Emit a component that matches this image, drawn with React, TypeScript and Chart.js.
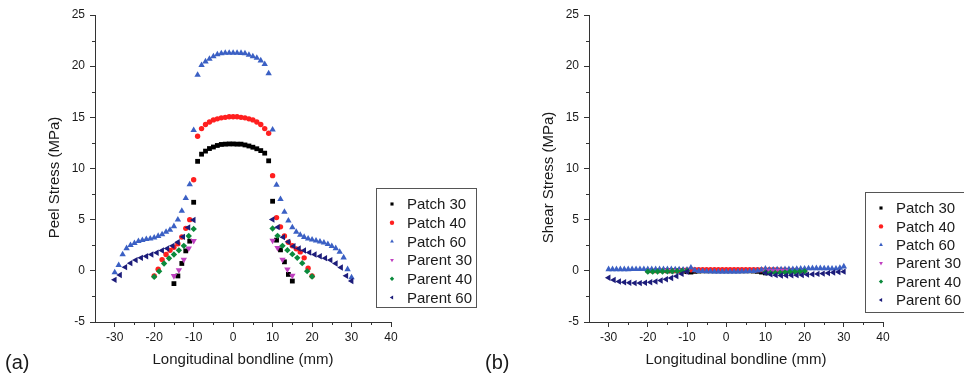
import React, { useEffect, useRef } from 'react';
import { Chart, registerables } from 'chart.js';
import { drawPoint } from 'chart.js/helpers';

Chart.register(...registerables);

const FONT = '"Liberation Sans", Arial, sans-serif';
const AXIS_COLOR = '#333333';
const TEXT_COLOR = '#1a1a1a';

const SERIES_NAMES = ['Patch 30', 'Patch 40', 'Patch 60', 'Parent 30', 'Parent 40', 'Parent 60'];
const COLORS = ['#000000', '#ff1f1f', '#3b60c4', '#c040c0', '#0b8a3c', '#1c1c7a'];
const STYLES = ['rect', 'circle', 'triangle', 'triangle', 'rectRot', 'triangle'];
const ROTATIONS = [0, 0, 0, 180, 0, 270];
const RADII = [3.4, 2.7, 3.7, 3.7, 3.2, 3.7];

const X_TICKS = [-30, -20, -10, 0, 10, 20, 30, 40];
const X_MINOR = [-25, -15, -5, 5, 15, 25, 35];
const Y_MINOR = [-2.5, 2.5, 7.5, 12.5, 17.5, 22.5];

// x positions (mm)
const PATCH30_X = [-15, -14, -13, -12, -11, -10, -9, -8, -7, -6, -5, -4, -3, -2, -1, 0, 1, 2, 3, 4, 5, 6, 7, 8, 9, 10, 11, 12, 13, 14, 15];
const PATCH40_X = [-20, -19, -18, -17, -16, -15, -14, -13, -12, -11, -10, -9, -8, -7, -6, -5, -4, -3, -2, -1, 0, 1, 2, 3, 4, 5, 6, 7, 8, 9, 10, 11, 12, 13, 14, 15, 16, 17, 18, 19, 20];
const PATCH60_X = [-30, -29, -28, -27, -26, -25, -24, -23, -22, -21, -20, -19, -18, -17, -16, -15, -14, -13, -12, -11, -10, -9, -8, -7, -6, -5, -4, -3, -2, -1, 0, 1, 2, 3, 4, 5, 6, 7, 8, 9, 10, 11, 12, 13, 14, 15, 16, 17, 18, 19, 20, 21, 22, 23, 24, 25, 26, 27, 28, 29, 30];
const PARENT30_X = [-15, -13.75, -12.5, -11.25, -10, 10, 11.25, 12.5, 13.75, 15];
const PARENT40_X = [-20, -18.75, -17.5, -16.25, -15, -13.75, -12.5, -11.25, -10, 10, 11.25, 12.5, 13.75, 15, 16.25, 17.5, 18.75, 20];
const PARENT60_X = [-30, -28.67, -27.33, -26, -24.67, -23.33, -22, -20.67, -19.33, -18, -16.67, -15.33, -14, -12.67, -11.33, -10, 10, 11.33, 12.67, 14, 15.33, 16.67, 18, 19.33, 20.67, 22, 23.33, 24.67, 26, 27.33, 28.67, 30];

// (a) Peel stress (MPa)
const PEEL_PATCH30 = [-1.25, -0.5, 0.72, 1.95, 2.9, 6.7, 10.7, 11.4, 11.7, 11.95, 12.1, 12.25, 12.35, 12.38, 12.4, 12.4, 12.38, 12.38, 12.3, 12.2, 12.08, 11.93, 11.75, 11.5, 10.75, 6.8, 3.0, 2.05, 0.88, -0.35, -1.0];
const PEEL_PATCH40 = [-0.5, 0.15, 1.1, 1.6, 2.0, 2.3, 2.65, 3.3, 4.15, 5.0, 8.9, 13.15, 13.9, 14.3, 14.55, 14.75, 14.85, 14.95, 15.0, 15.05, 15.05, 15.05, 15.0, 14.95, 14.85, 14.75, 14.55, 14.3, 13.9, 13.45, 9.3, 5.2, 4.3, 3.4, 2.8, 2.45, 2.15, 1.85, 1.27, 0.25, -0.5];
const PEEL_PATCH60 = [-0.15, 0.55, 1.6, 2.2, 2.5, 2.7, 2.9, 3.0, 3.1, 3.15, 3.25, 3.4, 3.55, 3.8, 4.0, 4.35, 5.0, 5.85, 7.1, 8.45, 13.75, 19.15, 20.1, 20.45, 20.7, 20.95, 21.15, 21.25, 21.3, 21.3, 21.3, 21.3, 21.28, 21.25, 21.1, 20.95, 20.8, 20.55, 20.2, 19.3, 13.8, 8.4, 7.0, 5.75, 4.9, 4.25, 3.8, 3.5, 3.3, 3.15, 3.05, 2.95, 2.85, 2.75, 2.6, 2.4, 2.2, 1.85, 1.3, 0.15, -0.65];
const PEEL_PARENT30 = [-0.5, 0.08, 1.1, 2.2, 2.93, 2.95, 2.25, 1.1, 0.15, -0.47];
const PEEL_PARENT40 = [-0.58, -0.05, 0.72, 1.22, 1.6, 2.0, 2.44, 3.4, 4.1, 4.14, 3.42, 2.44, 2.02, 1.63, 1.27, 0.75, -0.03, -0.56];
const PEEL_PARENT60 = [-0.88, -0.4, 0.36, 0.75, 1.05, 1.27, 1.43, 1.6, 1.76, 1.99, 2.18, 2.44, 2.8, 3.32, 4.23, 4.96, 5.02, 4.27, 3.29, 2.83, 2.41, 2.18, 1.99, 1.79, 1.6, 1.43, 1.24, 1.05, 0.72, 0.33, -0.49, -1.0];

// (b) Shear stress (MPa)
const SHEAR_PATCH30 = [0.0, 0.0, 0.0, 0.0, -0.02, -0.08, -0.12, -0.05, -0.02, 0.0, 0.0, 0.0, 0.0, 0.0, 0.0, 0.0, 0.0, 0.0, 0.0, 0.0, 0.0, 0.0, -0.02, -0.05, -0.12, -0.2, -0.08, -0.03, -0.01, 0.0, 0.0];
const SHEAR_PATCH40 = [0.02, 0.02, 0.02, 0.03, 0.03, 0.03, 0.04, 0.04, 0.05, 0.06, 0.08, 0.1, 0.11, 0.12, 0.12, 0.12, 0.12, 0.12, 0.12, 0.12, 0.12, 0.12, 0.12, 0.12, 0.12, 0.12, 0.12, 0.12, 0.11, 0.1, 0.08, 0.1, 0.1, 0.1, 0.09, 0.08, 0.07, 0.06, 0.05, 0.04, 0.03];
const SHEAR_PATCH60 = [0.15, 0.15, 0.15, 0.15, 0.15, 0.15, 0.16, 0.16, 0.16, 0.16, 0.15, 0.15, 0.15, 0.15, 0.15, 0.15, 0.15, 0.14, 0.14, 0.12, 0.1, 0.3, 0.05, -0.02, -0.04, -0.05, -0.06, -0.07, -0.08, -0.08, -0.08, -0.08, -0.08, -0.07, -0.06, -0.05, -0.04, -0.02, 0.02, 0.1, 0.2, 0.12, 0.12, 0.13, 0.14, 0.15, 0.16, 0.17, 0.18, 0.2, 0.22, 0.24, 0.25, 0.25, 0.25, 0.24, 0.23, 0.22, 0.22, 0.28, 0.42];
const SHEAR_PARENT30 = [0.0, 0.0, -0.02, -0.03, -0.05, -0.05, -0.03, -0.02, 0.0, 0.0];
const SHEAR_PARENT40 = [-0.08, -0.08, -0.07, -0.06, -0.05, -0.04, -0.03, -0.02, 0.0, -0.15, -0.2, -0.2, -0.18, -0.15, -0.12, -0.1, -0.08, -0.05];
const SHEAR_PARENT60 = [-0.68, -0.9, -1.05, -1.12, -1.17, -1.2, -1.2, -1.17, -1.12, -1.05, -0.95, -0.83, -0.7, -0.52, -0.3, -0.08, -0.2, -0.35, -0.42, -0.45, -0.45, -0.43, -0.42, -0.4, -0.37, -0.33, -0.3, -0.27, -0.22, -0.17, -0.12, -0.08];

const X_SETS = [PATCH30_X, PATCH40_X, PATCH60_X, PARENT30_X, PARENT40_X, PARENT60_X];
const PEEL_SETS = [PEEL_PATCH30, PEEL_PATCH40, PEEL_PATCH60, PEEL_PARENT30, PEEL_PARENT40, PEEL_PARENT60];
const SHEAR_SETS = [SHEAR_PATCH30, SHEAR_PATCH40, SHEAR_PATCH60, SHEAR_PARENT30, SHEAR_PARENT40, SHEAR_PARENT60];

type PanelProps = {
  left: number;
  width: number;
  areaLeft: number;
  areaRight: number;
  yTitle: string;
  ySets: number[][];
  legendX: number;
  legendY: number;
  legendW: number;
  legendH: number;
  legendStep: number;
};

const HEIGHT = 378;
const AREA_TOP = 15;
const AREA_BOTTOM = 322;

function Panel(p: PanelProps) {
  const ref = useRef<HTMLCanvasElement | null>(null);
  useEffect(() => {
    const canvas = ref.current;
    if (!canvas) return;
    const overlay = {
      id: 'overlay',
      afterDraw(chart: any) {
        const ctx = chart.ctx;
        const { left, top, bottom } = chart.chartArea;
        const xs = chart.scales.x;
        const ys = chart.scales.y;
        ctx.save();
        ctx.strokeStyle = AXIS_COLOR;
        ctx.lineWidth = 1;
        ctx.beginPath();
        for (const v of X_MINOR) {
          const px = Math.round(xs.getPixelForValue(v)) + 0.5;
          ctx.moveTo(px, bottom);
          ctx.lineTo(px, bottom + 3);
        }
        for (const v of Y_MINOR) {
          const py = Math.round(ys.getPixelForValue(v)) + 0.5;
          ctx.moveTo(left - 3, py);
          ctx.lineTo(left, py);
        }
        ctx.stroke();
        ctx.restore();

        // y title
        ctx.save();
        ctx.translate(left - 40, (top + bottom) / 2 + 9);
        ctx.rotate(-Math.PI / 2);
        ctx.font = `15px ${FONT}`;
        ctx.fillStyle = TEXT_COLOR;
        ctx.textAlign = 'center';
        ctx.textBaseline = 'middle';
        ctx.fillText(p.yTitle, 0, 0);
        ctx.restore();

        // legend
        ctx.save();
        ctx.fillStyle = '#ffffff';
        ctx.fillRect(p.legendX, p.legendY, p.legendW, p.legendH);
        ctx.strokeStyle = '#555555';
        ctx.lineWidth = 1;
        ctx.strokeRect(p.legendX + 0.5, p.legendY + 0.5, p.legendW, p.legendH);
        ctx.font = `15px ${FONT}`;
        ctx.textAlign = 'left';
        ctx.textBaseline = 'middle';
        SERIES_NAMES.forEach((name, i) => {
          const y = p.legendY + 16 + i * p.legendStep;
          ctx.fillStyle = COLORS[i];
          drawPoint(ctx, { pointStyle: STYLES[i], rotation: ROTATIONS[i], radius: 2.2, borderWidth: 0 } as any, p.legendX + 16, y);
          ctx.fillStyle = TEXT_COLOR;
          ctx.fillText(name, p.legendX + 31, y + 1);
        });
        ctx.restore();
      },
    };

    const chart = new Chart(canvas, {
      type: 'scatter',
      data: {
        datasets: SERIES_NAMES.map((name, i) => ({
          label: name,
          data: X_SETS[i].map((x, j) => ({ x, y: p.ySets[i][j] })),
          backgroundColor: COLORS[i],
          borderColor: COLORS[i],
          pointStyle: STYLES[i] as any,
          rotation: ROTATIONS[i],
          pointRadius: RADII[i],
          pointBorderWidth: 0,
          showLine: false,
          order: 5 - i,
        })),
      },
      options: {
        animation: false,
        responsive: false,
        maintainAspectRatio: false,
        devicePixelRatio: 1,
        layout: { padding: { left: 0, top: AREA_TOP, right: p.width - p.areaRight, bottom: 0 } },
        plugins: { legend: { display: false }, tooltip: { enabled: false } },
        scales: {
          x: {
            type: 'linear',
            min: -35,
            max: 40,
            afterBuildTicks: (scale: any) => {
              scale.ticks = X_TICKS.map((v) => ({ value: v }));
            },
            afterFit: (scale: any) => {
              scale.height = HEIGHT - AREA_BOTTOM;
            },
            ticks: {
              font: { family: FONT, size: 12 },
              color: TEXT_COLOR,
              padding: 3,
              maxRotation: 0,
              autoSkip: false,
            },
            grid: { drawOnChartArea: false, drawTicks: true, tickLength: 5, color: AXIS_COLOR },
            border: { display: true, color: AXIS_COLOR, width: 1 },
            title: {
              display: true,
              text: 'Longitudinal bondline (mm)',
              font: { family: FONT, size: 15 },
              color: TEXT_COLOR,
              padding: { top: 0, bottom: 9 },
            },
          },
          y: {
            type: 'linear',
            min: -5,
            max: 25,
            afterFit: (scale: any) => {
              scale.width = p.areaLeft;
            },
            ticks: {
              stepSize: 5,
              font: { family: FONT, size: 12 },
              color: TEXT_COLOR,
              padding: 5,
            },
            grid: { drawOnChartArea: false, drawTicks: true, tickLength: 5, color: AXIS_COLOR },
            border: { display: true, color: AXIS_COLOR, width: 1 },
          },
        },
      },
      plugins: [overlay],
    });
    return () => chart.destroy();
  }, []);

  return (
    <canvas
      ref={ref}
      width={p.width}
      height={HEIGHT}
      style={{ position: 'absolute', left: p.left, top: 0, width: p.width, height: HEIGHT }}
    />
  );
}

export default function App() {
  const labelStyle: React.CSSProperties = {
    position: 'absolute',
    top: 350,
    fontFamily: FONT,
    fontSize: 20,
    lineHeight: '24px',
    color: TEXT_COLOR,
  };
  return (
    <div style={{ position: 'absolute', left: 0, top: 0, width: 964, height: HEIGHT, background: '#ffffff', overflow: 'hidden' }}>
      <Panel
        left={0}
        width={480}
        areaLeft={95}
        areaRight={391}
        yTitle="Peel Stress (MPa)"
        ySets={PEEL_SETS}
        legendX={376}
        legendY={188}
        legendW={100}
        legendH={119}
        legendStep={18.7}
      />
      <Panel
        left={480}
        width={484}
        areaLeft={109}
        areaRight={403}
        yTitle="Shear Stress (MPa)"
        ySets={SHEAR_SETS}
        legendX={385}
        legendY={192}
        legendW={130}
        legendH={120}
        legendStep={18.4}
      />
      <div style={{ ...labelStyle, left: 5 }}>(a)</div>
      <div style={{ ...labelStyle, left: 485 }}>(b)</div>
    </div>
  );
}
